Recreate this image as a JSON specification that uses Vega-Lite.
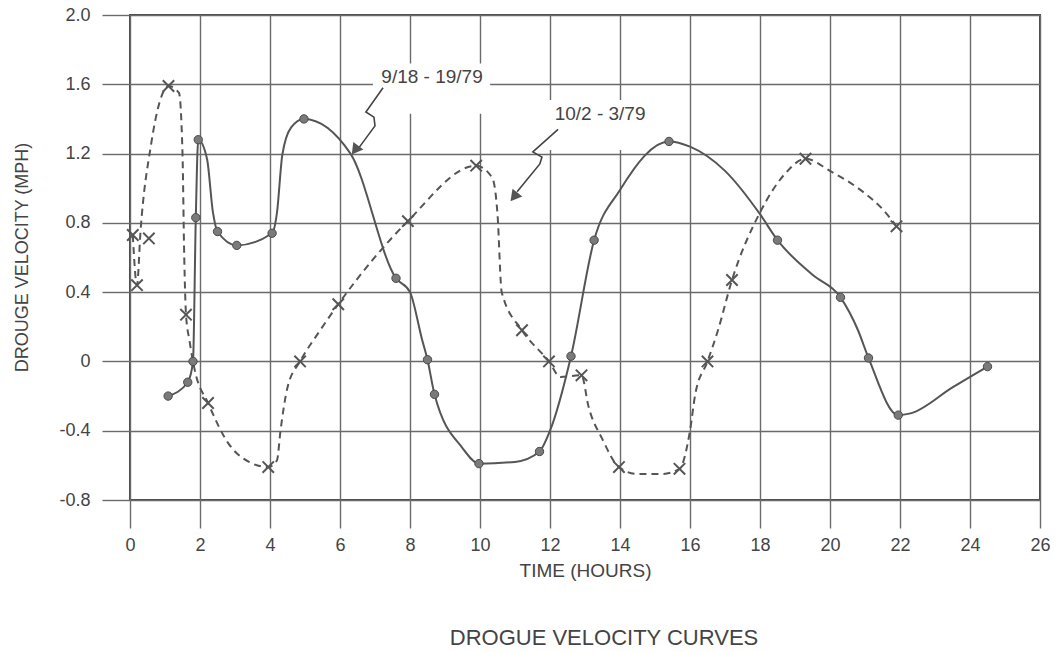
{
  "$schema": "https://vega.github.io/schema/vega-lite/v6.json",
  "width": 910,
  "height": 485,
  "autosize": {"type": "none"},
  "padding": {"left": 130, "top": 15, "right": 19, "bottom": 152},
  "background": "white",
  "config": {
    "font": "Liberation Sans",
    "view": {"stroke": "#4a4a4a", "strokeWidth": 2},
    "axis": {
      "grid": true,
      "gridColor": "#6a6a6a",
      "gridOpacity": 1,
      "gridWidth": 1.4,
      "tickColor": "#6a6a6a",
      "tickWidth": 1.4,
      "tickSize": 28,
      "domain": false,
      "labelFont": "Liberation Sans",
      "labelFontSize": 18,
      "labelColor": "#444",
      "titleFont": "Liberation Sans",
      "titleFontWeight": "normal",
      "titleColor": "#444"
    }
  },
  "title": {
    "text": "DROGUE VELOCITY CURVES",
    "orient": "bottom",
    "anchor": "middle",
    "frame": "group",
    "offset": 48,
    "dx": 19,
    "fontSize": 22,
    "fontWeight": "normal",
    "color": "#444",
    "font": "Liberation Sans"
  },
  "datasets": {
    "solid_path": [
      {"t": 1.09, "v": -0.2}, {"t": 1.65, "v": -0.12}, {"t": 1.8, "v": 0.0}, {"t": 1.88, "v": 0.83},
      {"t": 1.95, "v": 1.28}, {"t": 2.2, "v": 1.17}, {"t": 2.37, "v": 0.86}, {"t": 2.5, "v": 0.75},
      {"t": 3.05, "v": 0.67}, {"t": 4.06, "v": 0.74}, {"t": 4.2, "v": 0.86}, {"t": 4.35, "v": 1.19},
      {"t": 4.6, "v": 1.35}, {"t": 4.97, "v": 1.4}, {"t": 6.3, "v": 1.2}, {"t": 7.6, "v": 0.48},
      {"t": 8.0, "v": 0.4}, {"t": 8.34, "v": 0.13}, {"t": 8.5, "v": 0.01}, {"t": 8.7, "v": -0.19},
      {"t": 9.5, "v": -0.5}, {"t": 9.97, "v": -0.59}, {"t": 11.0, "v": -0.58}, {"t": 11.7, "v": -0.52},
      {"t": 12.0, "v": -0.4}, {"t": 12.6, "v": 0.03}, {"t": 13.26, "v": 0.7}, {"t": 14.0, "v": 0.99},
      {"t": 15.4, "v": 1.27}, {"t": 16.0, "v": 1.24}, {"t": 17.0, "v": 1.1}, {"t": 18.0, "v": 0.85},
      {"t": 18.5, "v": 0.7}, {"t": 19.5, "v": 0.5}, {"t": 20.3, "v": 0.37}, {"t": 20.8, "v": 0.18},
      {"t": 21.1, "v": 0.02}, {"t": 21.95, "v": -0.31}, {"t": 22.3, "v": -0.3}, {"t": 23.5, "v": -0.15},
      {"t": 24.5, "v": -0.03}
    ],
    "solid_pts": [
      {"t": 1.09, "v": -0.2}, {"t": 1.65, "v": -0.12}, {"t": 1.8, "v": 0.0}, {"t": 1.88, "v": 0.83},
      {"t": 1.95, "v": 1.28}, {"t": 2.5, "v": 0.75}, {"t": 3.05, "v": 0.67}, {"t": 4.06, "v": 0.74},
      {"t": 4.97, "v": 1.4}, {"t": 7.6, "v": 0.48}, {"t": 8.5, "v": 0.01}, {"t": 8.7, "v": -0.19},
      {"t": 9.97, "v": -0.59}, {"t": 11.7, "v": -0.52}, {"t": 12.6, "v": 0.03}, {"t": 13.26, "v": 0.7},
      {"t": 15.4, "v": 1.27}, {"t": 18.5, "v": 0.7}, {"t": 20.3, "v": 0.37}, {"t": 21.1, "v": 0.02},
      {"t": 21.95, "v": -0.31}, {"t": 24.5, "v": -0.03}
    ],
    "dashed_path": [
      {"t": 0.08, "v": 0.73}, {"t": 0.2, "v": 0.44}, {"t": 0.3, "v": 0.75}, {"t": 0.6, "v": 1.25},
      {"t": 0.85, "v": 1.5}, {"t": 1.1, "v": 1.59}, {"t": 1.4, "v": 1.55}, {"t": 1.5, "v": 1.2},
      {"t": 1.55, "v": 0.6}, {"t": 1.6, "v": 0.27}, {"t": 1.7, "v": 0.12}, {"t": 1.85, "v": -0.05},
      {"t": 2.23, "v": -0.24}, {"t": 2.8, "v": -0.47}, {"t": 3.4, "v": -0.58}, {"t": 3.95, "v": -0.61},
      {"t": 4.2, "v": -0.57}, {"t": 4.3, "v": -0.4}, {"t": 4.5, "v": -0.15}, {"t": 4.86, "v": 0.0},
      {"t": 5.4, "v": 0.17}, {"t": 5.95, "v": 0.33}, {"t": 7.94, "v": 0.81}, {"t": 9.89, "v": 1.13},
      {"t": 10.35, "v": 1.06}, {"t": 10.5, "v": 0.85}, {"t": 10.62, "v": 0.4}, {"t": 11.2, "v": 0.18},
      {"t": 11.97, "v": 0.0}, {"t": 12.3, "v": -0.09}, {"t": 12.9, "v": -0.08}, {"t": 13.1, "v": -0.26},
      {"t": 13.5, "v": -0.45}, {"t": 13.97, "v": -0.61}, {"t": 14.5, "v": -0.65}, {"t": 15.2, "v": -0.65},
      {"t": 15.7, "v": -0.62}, {"t": 16.0, "v": -0.4}, {"t": 16.15, "v": -0.19}, {"t": 16.5, "v": 0.0},
      {"t": 16.8, "v": 0.18}, {"t": 17.2, "v": 0.47}, {"t": 18.0, "v": 0.86}, {"t": 18.7, "v": 1.08},
      {"t": 19.3, "v": 1.17}, {"t": 20.0, "v": 1.1}, {"t": 21.0, "v": 0.97}, {"t": 21.5, "v": 0.88},
      {"t": 21.9, "v": 0.78}
    ],
    "dashed_pts": [
      {"t": 0.08, "v": 0.73}, {"t": 0.54, "v": 0.71}, {"t": 0.2, "v": 0.44}, {"t": 1.1, "v": 1.59},
      {"t": 1.6, "v": 0.27}, {"t": 2.23, "v": -0.24}, {"t": 3.95, "v": -0.61}, {"t": 4.86, "v": 0.0},
      {"t": 5.95, "v": 0.33}, {"t": 7.94, "v": 0.81}, {"t": 9.89, "v": 1.13}, {"t": 11.2, "v": 0.18},
      {"t": 11.97, "v": 0.0}, {"t": 12.9, "v": -0.08}, {"t": 13.97, "v": -0.61}, {"t": 15.7, "v": -0.62},
      {"t": 16.5, "v": 0.0}, {"t": 17.2, "v": 0.47}, {"t": 19.3, "v": 1.17}, {"t": 21.9, "v": 0.78}
    ],
    "boxes": [
      {"t1": 6.94, "t2": 10.29, "v1": 1.43, "v2": 1.72},
      {"t1": 11.86, "t2": 15.0, "v1": 1.22, "v2": 1.51}
    ],
    "arrows": [
      {"arrow": "a", "seq": 1, "t": 7.23, "v": 1.58},
      {"arrow": "a", "seq": 2, "t": 6.74, "v": 1.44},
      {"arrow": "a", "seq": 3, "t": 6.97, "v": 1.41},
      {"arrow": "a", "seq": 4, "t": 7.0, "v": 1.36},
      {"arrow": "a", "seq": 5, "t": 6.49, "v": 1.22},
      {"arrow": "b", "seq": 1, "t": 12.23, "v": 1.34},
      {"arrow": "b", "seq": 2, "t": 11.51, "v": 1.21},
      {"arrow": "b", "seq": 3, "t": 11.77, "v": 1.18},
      {"arrow": "b", "seq": 4, "t": 11.71, "v": 1.14},
      {"arrow": "b", "seq": 5, "t": 11.06, "v": 0.98}
    ],
    "labels": [
      {"label": "9/18 - 19/79", "t": 8.63, "v": 1.64},
      {"label": "10/2 - 3/79", "t": 13.43, "v": 1.43}
    ]
  },
  "layer": [
    {
      "data": {"name": "boxes"},
      "mark": {"type": "rect", "color": "white"},
      "encoding": {
        "x": {
          "field": "t1", "type": "quantitative",
          "scale": {"domain": [0, 26], "nice": false, "zero": false},
          "axis": {
            "values": [0, 2, 4, 6, 8, 10, 12, 14, 16, 18, 20, 22, 24, 26],
            "title": "TIME (HOURS)",
            "titleFontSize": 19,
            "titleBaseline": "middle",
            "titleY": 70,
            "labelPadding": 8,
            "labelFlush": false
          }
        },
        "x2": {"field": "t2"},
        "y": {
          "field": "v1", "type": "quantitative",
          "scale": {"domain": [-0.8, 2.0], "nice": false, "zero": false},
          "axis": {
            "values": [-0.8, -0.4, 0, 0.4, 0.8, 1.2, 1.6, 2.0],
            "labelExpr": "datum.value == 0 ? '0' : replace(format(datum.value, '.1f'), '\u2212', '-')",
            "title": "DROUGE VELOCITY (MPH)",
            "titleFontSize": 18,
            "titleAngle": -90,
            "titleBaseline": "middle",
            "titleAlign": "center",
            "titleX": -108,
            "titleY": 242,
            "labelPadding": 12,
            "labelFlush": false
          }
        },
        "y2": {"field": "v2"}
      }
    },
    {
      "data": {"name": "arrows"},
      "mark": {"type": "line", "color": "#444", "strokeWidth": 1.6},
      "encoding": {
        "x": {"field": "t", "type": "quantitative"},
        "y": {"field": "v", "type": "quantitative"},
        "detail": {"field": "arrow"},
        "order": {"field": "seq"}
      }
    },
    {
      "data": {"values": [{"t": 6.43, "v": 1.22}]},
      "mark": {"type": "point", "shape": "triangle-up", "filled": true, "color": "#555", "size": 160, "angle": 217, "opacity": 1},
      "encoding": {
        "x": {"field": "t", "type": "quantitative"},
        "y": {"field": "v", "type": "quantitative"}
      }
    },
    {
      "data": {"values": [{"t": 10.97, "v": 0.95}]},
      "mark": {"type": "point", "shape": "triangle-up", "filled": true, "color": "#555", "size": 160, "angle": 219, "opacity": 1},
      "encoding": {
        "x": {"field": "t", "type": "quantitative"},
        "y": {"field": "v", "type": "quantitative"}
      }
    },
    {
      "data": {"name": "dashed_path"},
      "mark": {"type": "line", "color": "#555", "strokeWidth": 2, "strokeDash": [7, 5], "interpolate": "monotone"},
      "encoding": {
        "x": {"field": "t", "type": "quantitative"},
        "y": {"field": "v", "type": "quantitative"}
      }
    },
    {
      "data": {"name": "solid_path"},
      "mark": {"type": "line", "color": "#555", "strokeWidth": 2, "interpolate": "monotone"},
      "encoding": {
        "x": {"field": "t", "type": "quantitative"},
        "y": {"field": "v", "type": "quantitative"}
      }
    },
    {
      "data": {"name": "solid_pts"},
      "mark": {"type": "point", "shape": "circle", "filled": true, "fill": "#7a7a7a", "stroke": "#4a4a4a", "strokeWidth": 1, "size": 70, "opacity": 1},
      "encoding": {
        "x": {"field": "t", "type": "quantitative"},
        "y": {"field": "v", "type": "quantitative"}
      }
    },
    {
      "data": {"name": "dashed_pts"},
      "mark": {"type": "point", "shape": "M-1,-1L1,1M1,-1L-1,1", "filled": false, "stroke": "#555", "strokeWidth": 2, "size": 130, "opacity": 1},
      "encoding": {
        "x": {"field": "t", "type": "quantitative"},
        "y": {"field": "v", "type": "quantitative"}
      }
    },
    {
      "data": {"name": "labels"},
      "mark": {"type": "text", "font": "Liberation Sans", "fontSize": 19, "color": "#444", "align": "center", "baseline": "middle"},
      "encoding": {
        "x": {"field": "t", "type": "quantitative"},
        "y": {"field": "v", "type": "quantitative"},
        "text": {"field": "label"}
      }
    }
  ]
}
